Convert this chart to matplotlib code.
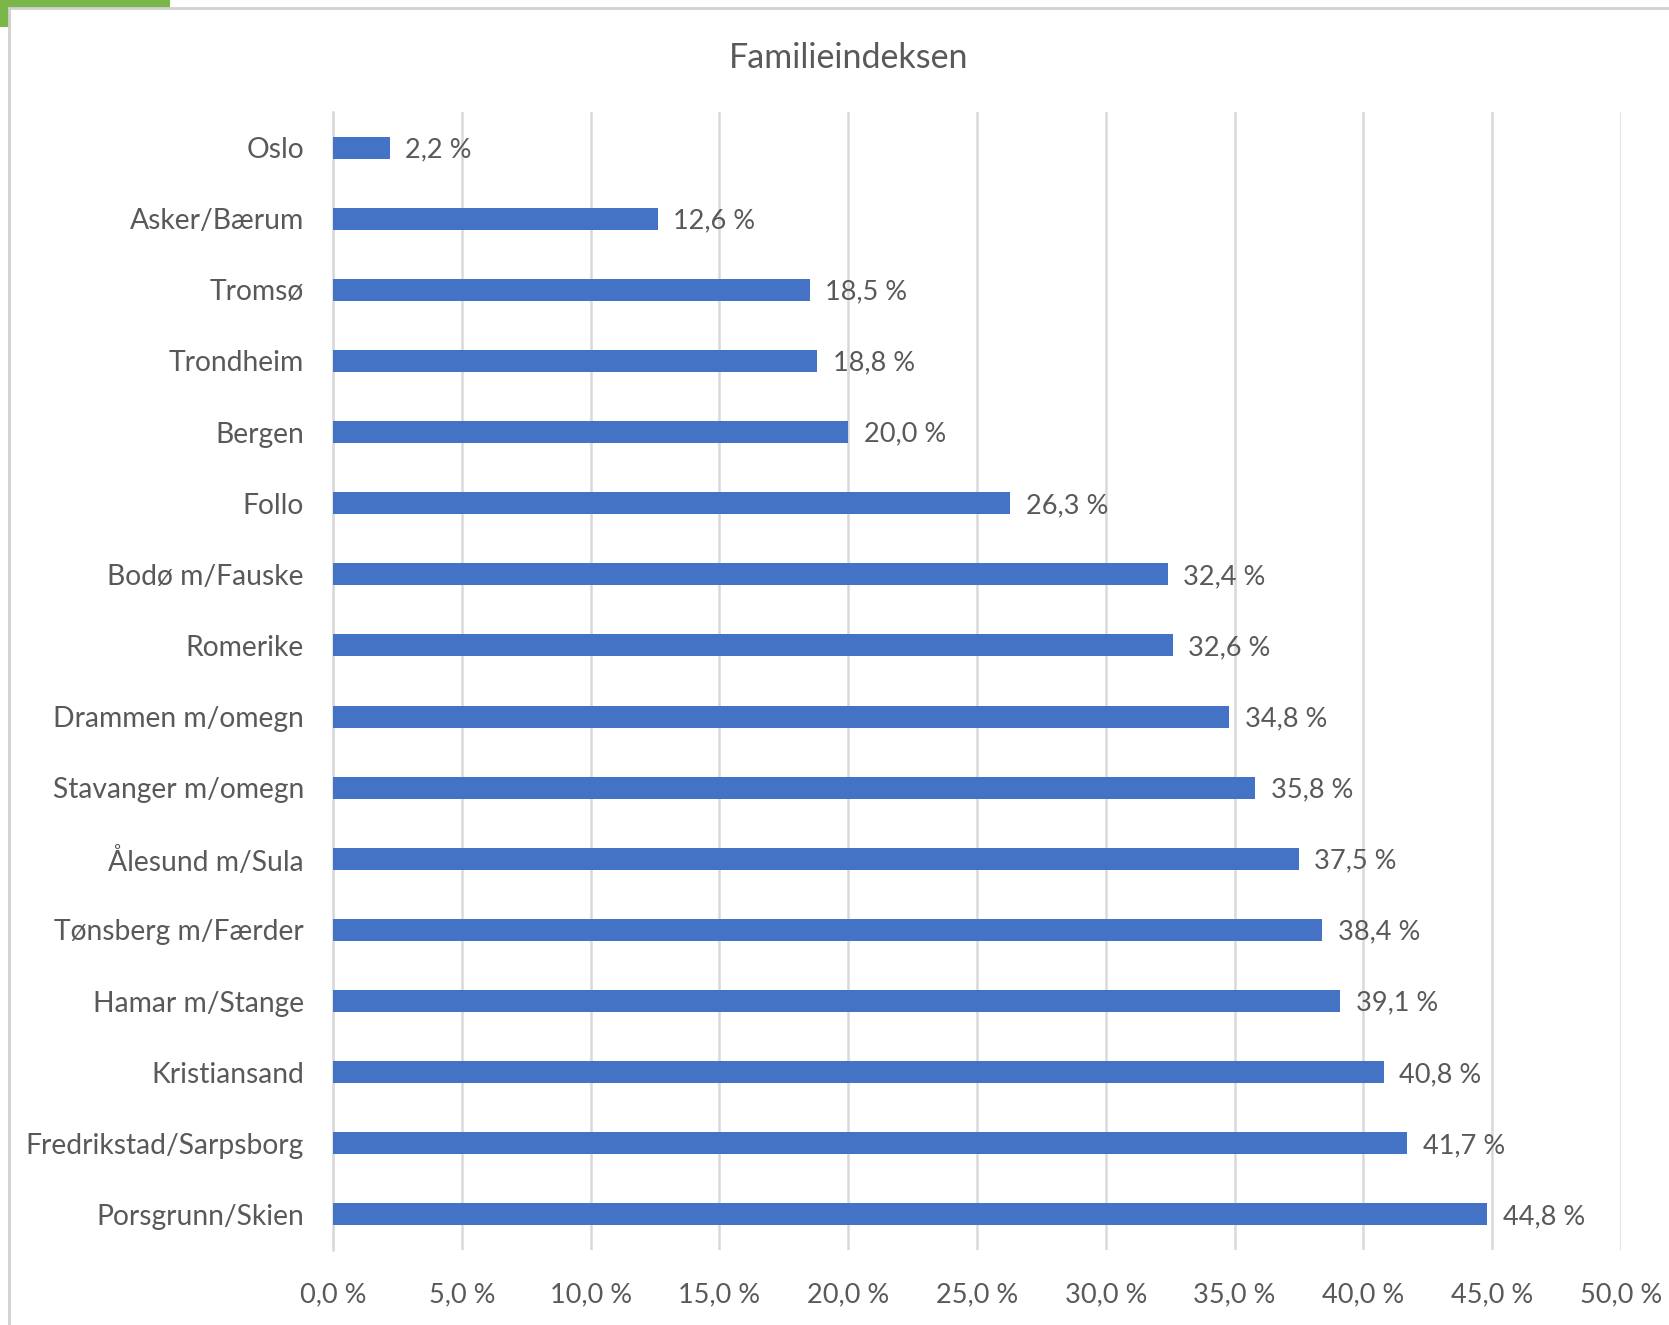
import matplotlib.pyplot as plt
from matplotlib.patches import Rectangle
from matplotlib.ticker import FuncFormatter

plt.rcParams['font.family'] = ['Lato', 'DejaVu Sans']

regions = ['Oslo', 'Asker/Bærum', 'Tromsø', 'Trondheim', 'Bergen', 'Follo',
           'Bodø m/Fauske', 'Romerike', 'Drammen m/omegn', 'Stavanger m/omegn',
           'Ålesund m/Sula', 'Tønsberg m/Færder', 'Hamar m/Stange', 'Kristiansand',
           'Fredrikstad/Sarpsborg', 'Porsgrunn/Skien']
values = [2.2, 12.6, 18.5, 18.8, 20.0, 26.3, 32.4, 32.6, 34.8, 35.8,
          37.5, 38.4, 39.1, 40.8, 41.7, 44.8]
x_ticks = [0, 5, 10, 15, 20, 25, 30, 35, 40, 45, 50]

W, H = 1669, 1325
text_col = '#595959'
grid_col = '#d9d9d9'

fig = plt.figure(figsize=(W / 100, H / 100), dpi=100)

# green tab peeking out at the top-left, then the chart frame
fig.patches.append(Rectangle((0, 1 - 27 / H), 170 / W, 27 / H, transform=fig.transFigure,
                             facecolor='#7ab648', edgecolor='none', zorder=0))
fig.patches.append(Rectangle((9 / W, -0.01), 1.0, 1 - 8 / H + 0.01, transform=fig.transFigure,
                             facecolor='white', edgecolor='#d0d0d0', linewidth=2, zorder=1))

ax = fig.add_axes([333 / W, 1 - 1250 / H, (1621 - 333) / W, (1250 - 112) / H])
ax.set_facecolor('none')
ax.set_zorder(5)

ypos = list(range(len(regions)))
ax.barh(ypos, values, height=0.31, color='#4472C4', zorder=3)
for y, v in zip(ypos, values):
    ax.text(v + 0.6, y + 0.03, f'{v:.1f} %'.replace('.', ','), va='center', ha='left',
            fontsize=19.5, color=text_col)

ax.set_xlim(0, 50)
ax.set_ylim(len(regions) - 0.5, -0.5)
ax.set_xticks(x_ticks)
ax.xaxis.set_major_formatter(FuncFormatter(lambda v, p: f'{v:.1f} %'.replace('.', ',')))
ax.set_yticks(ypos)
ax.set_yticklabels(regions)
ax.tick_params(axis='both', length=0, labelsize=20.3, labelcolor=text_col)
ax.tick_params(axis='x', labelsize=19.5)
ax.tick_params(axis='y', pad=21)
ax.tick_params(axis='x', pad=23)
ax.grid(axis='x', color=grid_col, linewidth=1.8, zorder=0)
for s in ['top', 'right', 'bottom']:
    ax.spines[s].set_visible(False)
ax.spines['left'].set_color(grid_col)
ax.spines['left'].set_linewidth(1.8)

fig.text(849 / W, 1 - 58 / H, 'Familieindeksen', ha='center', va='center',
         fontsize=24.5, color=text_col, zorder=6)

fig.savefig('out.png', dpi=100)
